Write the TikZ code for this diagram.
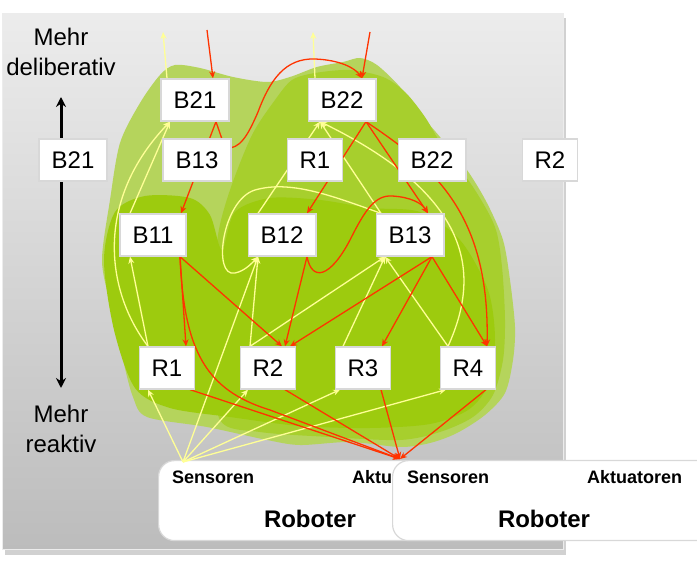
\documentclass[tikz,border=0pt]{standalone}
\usepackage{fontspec}
\setmainfont{Liberation Sans}
\usetikzlibrary{calc,arrows.meta}
\definecolor{redl}{RGB}{255,51,0}
\definecolor{yell}{RGB}{255,255,150}
\definecolor{gOuter}{RGB}{181,212,92}
\definecolor{gMid}{RGB}{167,207,45}
\definecolor{gDark}{RGB}{157,203,14}
\definecolor{panelTop}{RGB}{236,236,236}
\definecolor{panelBot}{RGB}{188,188,188}
\definecolor{boxline}{RGB}{216,216,216}
\begin{document}
\begin{tikzpicture}[x=1pt,y=-1pt,
  box/.style={draw=boxline,fill=white,line width=1.3pt,minimum height=42pt,inner xsep=12.5pt,inner ysep=0pt,font=\fontsize{24}{28}\selectfont},
  robot/.style={draw=boxline,fill=white,line width=1.2pt,rounded corners=16pt,minimum width=305pt,minimum height=80pt,anchor=north west,inner sep=0pt},
  small/.style={font=\fontsize{18}{20}\selectfont\bfseries,anchor=west,inner sep=0pt},
  big/.style={font=\fontsize{24}{28}\selectfont\bfseries,inner sep=0pt},
  side/.style={font=\fontsize{24}{30}\selectfont,align=center,inner sep=0pt},
  rline/.style={draw=redl,line width=1.3pt,-{Stealth[length=7pt,width=6pt]}},
  yline/.style={draw=yell,line width=1.3pt,-{Stealth[length=7pt,width=6pt]}},
  bigarrow/.style={line width=3pt,{Stealth[length=10pt,width=10pt]}-{Stealth[length=10pt,width=10pt]}}
]
\useasboundingbox (0,0) rectangle (697,561);
% panel
\fill[black!30,opacity=.6] (5,18) rectangle (566,555);
\fill[top color=panelTop,bottom color=panelBot] (2,14) rectangle (563,550);
\draw[white!85!gray,line width=1pt] (2,14) rectangle (563,550);
% green blobs
\fill[gOuter] plot[smooth cycle] coordinates {(110,200) (120,143) (140,103) (160,75) (175,65) (200,68) (233,77) (267,82) (290,77) (317,67) (343,62) (360,58) (377,65) (400,87) (423,117) (440,137) (467,170) (487,203) (503,240) (510,280) (515,327) (513,360) (505,393) (485,415) (457,433) (430,443) (400,447) (350,442) (300,445) (267,440) (207,427) (147,417) (133,397) (123,360) (110,303) (102,260)};
\fill[gMid] plot[smooth cycle] coordinates {(215,290) (218,235) (230,190) (252,135) (275,100) (292,80) (315,73) (350,70) (383,77) (405,92) (425,117) (443,147) (473,187) (495,227) (502,267) (505,320) (503,360) (493,395) (473,417) (440,432) (400,440) (330,437) (260,432) (220,420) (214,350)};
\fill[gDark] plot[smooth cycle] coordinates {(104,260) (115,212) (145,196) (190,198) (210,215) (222,250) (235,212) (270,198) (320,200) (370,208) (420,212) (460,240) (488,290) (495,340) (488,385) (468,410) (430,424) (370,428) (300,426) (230,417) (170,408) (135,388) (114,330)};
% robot boxes
\node[robot] (rob1) at (158,460) {};
\node[small] (sen1) at ($(rob1.north west)+(14,17)$) {Sensoren};
\node[small] (akt1) at ($(rob1.north west)+(194,17)$) {Aktu};
\node[big] (rb1) at ($(rob1.north west)+(152,59)$) {Roboter};
\node[robot,minimum width=325pt] (rob2) at (392,460) {};
\node[small] (sen2) at ($(rob2.north west)+(15,17)$) {Sensoren};
\node[small] (akt2) at ($(rob2.north west)+(195,17)$) {Aktuatoren};
\node[big] (rb2) at ($(rob2.north west)+(152,59)$) {Roboter};
\coordinate (sens) at ($(rob1.north west)+(25,2)$);
\coordinate (akt) at ($(rob1.north west)+(242,-1)$);
% left axis
\coordinate (vt) at (61,97);
\coordinate (vb) at (61,388);
\draw[bigarrow] (vt) -- (vb);
\node[side] (mtop) at (61,52) {Mehr\\deliberativ};
\node[side] (mbot) at (61,429) {Mehr\\reaktiv};
% invisible placeholders for anchors
\begin{scope}[every node/.style={box,draw=none,fill=none,text opacity=0}]
\node (b21t) at (195,100) {B21};
\node (b22t) at (342,100) {B22};
\node (b13a) at (197,160) {B13};
\node (r1a) at (315,160) {R1};
\node (b22a) at (432,160) {B22};
\node (b11) at (153,235) {B11};
\node (b12) at (282,235) {B12};
\node (b13) at (410,235) {B13};
\node (r1) at (167,368) {R1};
\node (r2) at (268,368) {R2};
\node (r3) at (363,368) {R3};
\node (r4) at (468,368) {R4};
\end{scope}
% free ends at top
\coordinate (o1) at (163,32);
\coordinate (i1) at (207,30);
\coordinate (o2) at (313,32);
\coordinate (i2) at (370,32);
% anchor points
\coordinate (b21in) at ($(b21t.south)+(-25,0)$);
\coordinate (b21s) at ($(b21t.south)+(21,0)$);
\coordinate (b22in) at ($(b22t.south)+(-22,0)$);
\coordinate (b22s) at ($(b22t.south)+(24,0)$);
\coordinate (b11in) at ($(b11.south)+(-23,0)$);
\coordinate (b11s) at ($(b11.south)+(27,0)$);
\coordinate (b12in) at ($(b12.south)+(-24,0)$);
\coordinate (b12s) at ($(b12.south)+(25,0)$);
\coordinate (b13in) at ($(b13.south)+(-25,0)$);
\coordinate (b13s) at ($(b13.south)+(22,0)$);
\coordinate (b13tr) at ($(b13.north)+(18,0)$);
\coordinate (b13tl) at ($(b13.north)+(-29,0)$);
% ---- yellow edges
\draw[yline] ($(b21t.north)+(-28,0)$) -- (o1);
\draw[yline] ($(b22t.north)+(-27,0)$) -- (o2);
\draw[yline] ($(b11.north)+(-23,0)$) -- (b21in);
\draw[yline] ($(r1.north)+(-19,0)$) .. controls (105,290) and (95,200) .. (b21in);
\draw[yline] ($(r1.north)+(-19,0)$) -- (b11in);
\draw[yline] ($(b12.north)+(-24,0)$) -- (b22in);
\draw[yline] (b13tl) -- (b22in);
\draw[yline] ($(r4.north)+(-20,0)$) .. controls (478,280) and (480,200) .. (b22in);
\draw[yline] (b13tl) .. controls (330,195) and (290,180) .. (255,190) .. controls (222,200) and (212,278) .. (235,273) .. controls (245,271) and (252,263) .. (b12in);
\draw[yline] ($(r2.north)+(-18,0)$) -- (b12in);
\draw[yline] ($(r2.north)+(-18,0)$) -- (b13in);
\draw[yline] ($(r3.north)+(-20,0)$) -- (b13in);
\draw[yline] ($(r4.north)+(-20,0)$) -- (b13in);
\draw[yline] (sens) -- ($(r1.south)+(-19,0)$);
\draw[yline] (sens) -- (b12in);
\draw[yline] (sens) -- ($(r2.south)+(-20,0)$);
\draw[yline] (sens) -- ($(r3.south)+(-23,0)$);
\draw[yline] (sens) -- ($(r4.south)+(-22,0)$);
% ---- red edges
\draw[rline] (i1) -- ($(b21t.north)+(18,0)$);
\draw[rline] (i2) -- ($(b22t.north)+(20,0)$);
\draw[rline] (b21s) -- ($(b11.north)+(28,0)$);
\draw[rline] (b21s) -- (225,148) .. controls (240,150) and (248,135) .. (258,112) .. controls (270,80) and (285,58) .. (315,59) .. controls (340,60) and (355,68) .. ($(b22t.north)+(20,0)$);
\draw[rline] (b22s) -- ($(b12.north)+(25,0)$);
\draw[rline] (b22s) -- (b13tr);
\draw[rline] (b22s) .. controls (430,165) and (490,210) .. ($(r4.north)+(19,0)$);
\draw[rline] (b11s) -- ($(r1.north)+(19,0)$);
\draw[rline] (b11s) -- ($(r2.north)+(14,0)$);
\draw[rline] (b11s) .. controls (184,350) and (205,390) .. (270,410) -- (akt);
\draw[rline] (b12s) -- ($(r2.north)+(17,0)$);
\draw[rline] (b12s) .. controls (312,282) and (330,278) .. (350,240) .. controls (365,210) and (375,195) .. (392,196) .. controls (410,197) and (422,203) .. (b13tr);
\draw[rline] (b13s) -- ($(r2.north)+(22,0)$);
\draw[rline] (b13s) -- ($(r3.north)+(19,0)$);
\draw[rline] (b13s) -- ($(r4.north)+(19,0)$);
\draw[rline] ($(r1.south)+(23,0)$) -- (akt);
\draw[rline] ($(r2.south)+(17,0)$) -- (akt);
\draw[rline] ($(r3.south)+(18,0)$) -- (akt);
\draw[rline] ($(r4.south)+(18,0)$) -- (akt);
% ---- visible boxes
\node[box] (b21l) at (73,160) {B21};
\node[box] (r2r) at (550,160) {R2};
\node[box] (vb21t) at (b21t) {B21};
\node[box] (vb22t) at (b22t) {B22};
\node[box] (vb13a) at (b13a) {B13};
\node[box] (vr1a) at (r1a) {R1};
\node[box] (vb22a) at (b22a) {B22};
\node[box] (vb11) at (b11) {B11};
\node[box] (vb12) at (b12) {B12};
\node[box] (vb13) at (b13) {B13};
\node[box] (vr1) at (r1) {R1};
\node[box] (vr2) at (r2) {R2};
\node[box] (vr3) at (r3) {R3};
\node[box] (vr4) at (r4) {R4};
\end{tikzpicture}
\end{document}
